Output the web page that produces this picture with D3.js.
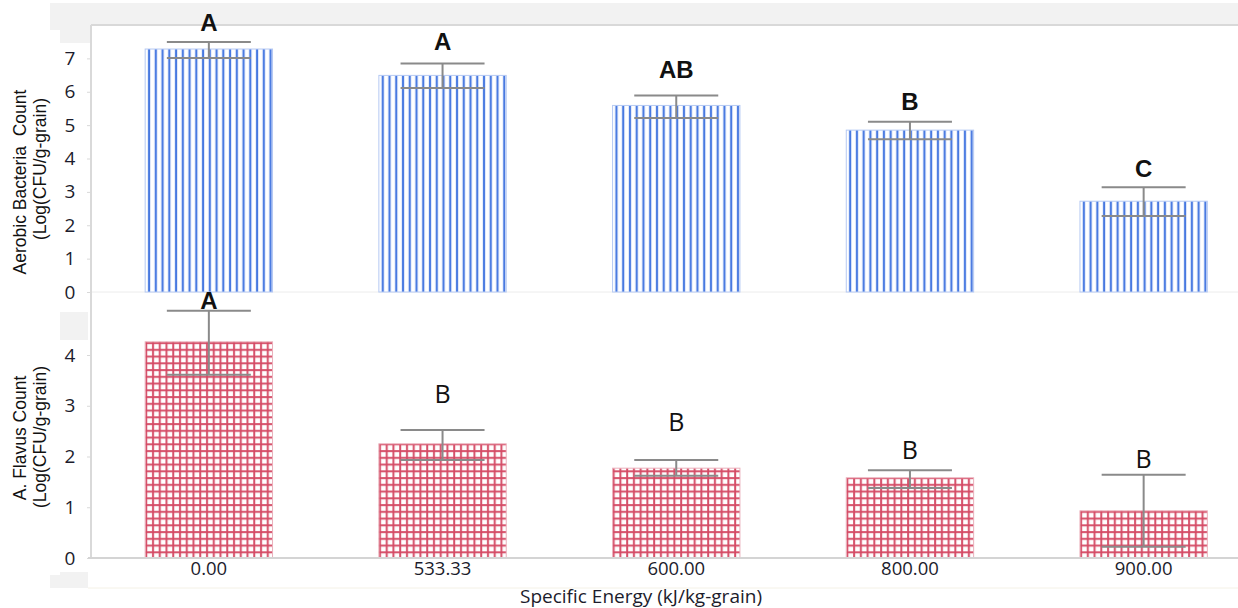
<!DOCTYPE html>
<html><head><meta charset="utf-8">
<script src="https://cdn.jsdelivr.net/npm/d3@7"></script>
<style>body{margin:0;background:#fff}svg{display:block}</style>
</head><body><svg id="c" width="1238" height="608"></svg>
<script>
// ---- data ----
const categories = ["0.00", "533.33", "600.00", "800.00", "900.00"];
const bacteriaMean = [7.28, 6.49, 5.59, 4.85, 2.72];
const bacteriaErrHigh = [7.49, 6.85, 5.89, 5.10, 3.14];
const bacteriaErrLow = [7.01, 6.11, 5.21, 4.58, 2.28];
const bacteriaLetters = ["A", "A", "AB", "B", "C"];
const bacteriaLetterAt = [7.81, 7.24, 6.40, 5.44, 3.44];
const flavusMean = [4.26, 2.25, 1.77, 1.58, 0.93];
const flavusErrHigh = [4.87, 2.52, 1.93, 1.73, 1.64];
const flavusErrLow = [3.61, 1.93, 1.62, 1.38, 0.22];
const flavusLetters = ["A", "B", "B", "B", "B"];
const flavusLetterAt = [4.91, 3.05, 2.50, 1.95, 1.77];
const bacteriaTicks = [0, 1, 2, 3, 4, 5, 6, 7];
const flavusTicks = [0, 1, 2, 3, 4];
const xTitle = "Specific Energy (kJ/kg-grain)";
const bacteriaTitle = ["Aerobic Bacteria  Count", "(Log(CFU/g-grain)"];
const flavusTitle = ["A. Flavus Count", "(Log(CFU/g-grain)"];

// ---- layout ----
const svg = d3.select("#c");
const W = 1238;
const x = d3.scaleBand().domain(categories).range([92, 1260.5]).padding(0);
const barW = x.bandwidth() * 0.545;
const capW = 84;
const yT = d3.scaleLinear().domain([0, 8]).range([292, 25]);
const yB = d3.scaleLinear().domain([0, 4]).range([558, 355]);

// grey frame decorations
const grey = "#f2f2f2";
svg.append("rect").attr("x", 50).attr("y", 3).attr("width", W - 50).attr("height", 22).attr("fill", grey);
svg.append("rect").attr("x", 60).attr("y", 25).attr("width", 31).attr("height", 18).attr("fill", grey);
svg.append("rect").attr("x", 50).attr("y", 25).attr("width", 10).attr("height", 5).attr("fill", grey);
svg.append("rect").attr("x", 60).attr("y", 312).attr("width", 28).attr("height", 28).attr("fill", grey);
svg.append("rect").attr("x", 60).attr("y", 572).attr("width", 28).attr("height", 16).attr("fill", grey);
svg.append("rect").attr("x", 50).attr("y", 575).attr("width", 10).attr("height", 13).attr("fill", grey);
svg.append("line").attr("x1", 88).attr("x2", W).attr("y1", 588).attr("y2", 588).attr("stroke", "#f4f1e6").attr("stroke-width", 1);

// plot frame lines
svg.append("line").attr("x1", 91).attr("x2", W).attr("y1", 25).attr("y2", 25).attr("stroke", "#d9d9d9").attr("stroke-width", 2);
svg.append("line").attr("x1", 92).attr("x2", W).attr("y1", yT(0)).attr("y2", yT(0)).attr("stroke", "#ececec").attr("stroke-width", 1);

const defs = svg.append("defs");
const P = 6.75;
categories.forEach((c, i) => {
  const bx = x(c) + (x.bandwidth() - barW) / 2;
  const ps = defs.append("pattern").attr("id", "stripe" + i).attr("patternUnits", "userSpaceOnUse")
    .attr("x", bx).attr("y", 0).attr("width", P).attr("height", 20);
  ps.append("rect").attr("width", P).attr("height", 20).attr("fill", "#fff");
  ps.append("rect").attr("x", 2.6).attr("width", 2.6).attr("height", 20).attr("fill", "#a9c2f2");
  ps.append("rect").attr("x", 3.0).attr("width", 1.8).attr("height", 20).attr("fill", "#4577e0");
  const pg = defs.append("pattern").attr("id", "grid" + i).attr("patternUnits", "userSpaceOnUse")
    .attr("x", bx).attr("y", yB(0)).attr("width", P).attr("height", P);
  pg.append("rect").attr("width", P).attr("height", P).attr("fill", "#fff");
  pg.append("rect").attr("x", 0).attr("width", 2.2).attr("height", P).attr("fill", "#e38c9c");
  pg.append("rect").attr("y", 0).attr("height", 2.2).attr("width", P).attr("fill", "#e38c9c");
  pg.append("rect").attr("x", 0.4).attr("width", 1.4).attr("height", P).attr("fill", "#d44762");
  pg.append("rect").attr("y", 0.4).attr("height", 1.4).attr("width", P).attr("fill", "#d44762");
});

function panel(y, means, hi, lo, letters, letterAt, fillPrefix, stroke, letterStyle) {
  const g = svg.append("g");
  g.selectAll("rect.bar").data(categories).join("rect").attr("class", "bar")
    .attr("x", c => x(c) + (x.bandwidth() - barW) / 2)
    .attr("width", barW)
    .attr("y", (c, i) => y(means[i]))
    .attr("height", (c, i) => y(0) - y(means[i]))
    .attr("fill", (c, i) => `url(#${fillPrefix}${i})`)
    .attr("stroke", stroke).attr("stroke-width", 1);
  const eg = g.append("g").attr("stroke", "#8a8a8a").attr("stroke-width", 2).attr("fill", "none");
  categories.forEach((c, i) => {
    const cx = x(c) + x.bandwidth() / 2;
    eg.append("line").attr("x1", cx).attr("x2", cx).attr("y1", y(lo[i])).attr("y2", y(hi[i]));
    eg.append("line").attr("x1", cx - capW / 2).attr("x2", cx + capW / 2).attr("y1", y(hi[i])).attr("y2", y(hi[i]));
    eg.append("line").attr("x1", cx - capW / 2).attr("x2", cx + capW / 2).attr("y1", y(lo[i])).attr("y2", y(lo[i]));
  });
  g.selectAll("text.lt").data(categories).join("text").attr("class", "lt")
    .attr("x", c => x(c) + x.bandwidth() / 2)
    .attr("y", (c, i) => y(letterAt[i]))
    .attr("text-anchor", "middle")
    .each(function (c, i) { letterStyle(d3.select(this), i); })
    .text((c, i) => letters[i]);
}

const boldLetter = s => s.attr("font-family", "Liberation Sans, Arial, sans-serif").attr("font-weight", "bold").attr("font-size", 24).attr("fill", "#111");
panel(yT, bacteriaMean, bacteriaErrHigh, bacteriaErrLow, bacteriaLetters, bacteriaLetterAt, "stripe", "#b5c9f3", (s) => boldLetter(s));
panel(yB, flavusMean, flavusErrHigh, flavusErrLow, flavusLetters, flavusLetterAt, "grid", "#eab0bb",
  (s, i) => i === 0 ? boldLetter(s) : s.attr("font-family", "Open Sans, sans-serif").attr("font-size", 25).attr("font-weight", 500).attr("fill", "#111"));

// axes
const tickFont = (s, size) => s.attr("font-family", "Open Sans, sans-serif").attr("font-size", size).attr("fill", "#1c1c2c");
const axT = svg.append("g").attr("transform", "translate(91,0)")
  .call(d3.axisLeft(yT).tickValues(bacteriaTicks).tickSize(4).tickPadding(16).tickFormat(d3.format("d")));
const axB = svg.append("g").attr("transform", "translate(91,0)")
  .call(d3.axisLeft(yB).tickValues(flavusTicks).tickSize(4).tickPadding(16).tickFormat(d3.format("d")));
[axT, axB].forEach(a => {
  a.select(".domain").remove();
  a.selectAll(".tick line").attr("stroke", "#d9d9d9");
  a.selectAll(".tick text").attr("text-anchor", "middle").attr("x", -21).call(tickFont, 19);
});
svg.append("line").attr("x1", 91).attr("x2", 91).attr("y1", 25).attr("y2", 559).attr("stroke", "#d9d9d9").attr("stroke-width", 2);

const axX = svg.append("g").attr("transform", `translate(0,${yB(0)})`)
  .call(d3.axisBottom(x).tickSize(0).tickPadding(4));
axX.select(".domain").attr("stroke", "#d4d4d4").attr("stroke-width", 2).attr("d", `M88,0H${W}`);
axX.selectAll(".tick text").call(tickFont, 18.5);

svg.append("text").attr("x", 641).attr("y", 603).attr("text-anchor", "middle")
  .attr("font-family", "Open Sans, sans-serif").attr("font-size", 19).attr("fill", "#1c1c2c").text(xTitle);

function yTitle(lines, cxs, cys) {
  lines.forEach((t, i) => {
    svg.append("text").attr("transform", `translate(${cxs[i]},${cys[i]}) rotate(-90)`)
      .attr("text-anchor", "middle").attr("dy", "0.35em").style("white-space", "pre")
      .attr("font-family", "Liberation Sans, Arial, sans-serif").attr("font-size", 17.5).attr("fill", "#111").text(t);
  });
}
yTitle(bacteriaTitle, [20, 40], [182, 169]);
yTitle(flavusTitle, [20, 40], [438, 437]);
</script></body></html>
